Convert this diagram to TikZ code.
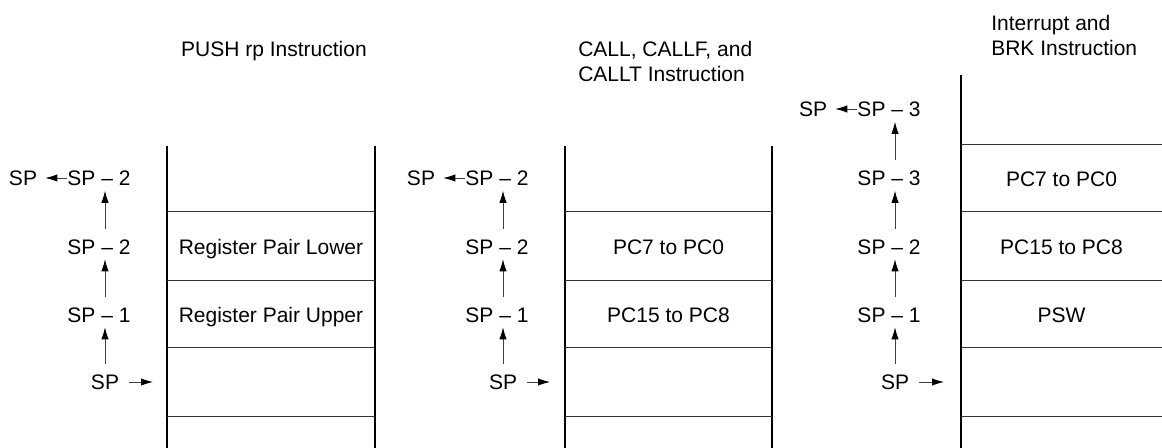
\documentclass[tikz,border=0pt]{standalone}
\usepackage{fontspec}
\setmainfont{Liberation Sans}
\usetikzlibrary{arrows.meta}

\begin{document}
\begin{tikzpicture}[x=0.75pt,y=0.75pt,yscale=-1,xscale=1,
  lbl/.style={inner sep=0pt,text height=11.3pt,text depth=0pt,font=\fontsize{15.75}{18.75}\selectfont},
  ttl/.style={anchor=north west,inner sep=0pt,align=left,font=\fontsize{15.75}{18.75}\selectfont},
  wall/.style={line width=2pt},
  rule/.style={line width=0.75pt,color=black!80},
  arr/.style={line width=0.6pt,color=black!75,-{Latex[length=9pt,width=5.5pt,color=black]}},
  uparr/.style={arr,shorten <=7.5pt,shorten >=3.75pt}]

\useasboundingbox (0,0) rectangle (1162,448);

% PUSH rp
\node (t1) [ttl,anchor=north] at (274,41) {PUSH rp Instruction};
\draw [wall] (167,146) -- (167,448) ;
\draw [wall] (375,146) -- (375,448) ;
\draw [rule] (167,212) -- (375,212) ;
\draw [rule] (167,281) -- (375,281) ;
\draw [rule] (167,348) -- (375,348) ;
\draw [rule] (167,416) -- (375,416) ;
\node (r1a) [lbl] at (271,246.5) {Register Pair Lower};
\node (r1b) [lbl] at (271,314.5) {Register Pair Upper};

\node (s1a) [lbl] at (23,178) {SP};
\node (s1b) [lbl] at (99,178) {SP -- 2};
\node (s1c) [lbl] at (99,246.5) {SP -- 2};
\node (s1d) [lbl] at (99,314.5) {SP -- 1};
\node (s1e) [lbl] at (105,382) {SP};
\coordinate (e1) at (153,382);
\draw [arr,shorten >=6pt] (s1b.west) -- (s1a.east) ;
\draw [uparr] ([xshift=4.5pt]s1c.north) -- ([xshift=4.5pt]s1b.south) ;
\draw [uparr] ([xshift=4.5pt]s1d.north) -- ([xshift=4.5pt]s1c.south) ;
\draw [uparr] (s1e.north) -- ([xshift=4.5pt]s1d.south) ;
\draw [arr,shorten <=7.5pt] (s1e.east) -- (e1) ;

% CALL, CALLF, CALLT
\node (t2) [ttl] at (578,41) {CALL, CALLF, and\\CALLT Instruction};
\draw [wall] (565,146) -- (565,448) ;
\draw [wall] (772,146) -- (772,448) ;
\draw [rule] (565,212) -- (772,212) ;
\draw [rule] (565,281) -- (772,281) ;
\draw [rule] (565,348) -- (772,348) ;
\draw [rule] (565,416) -- (772,416) ;
\node (r2a) [lbl] at (668.5,246.5) {PC7 to PC0};
\node (r2b) [lbl] at (668.5,314.5) {PC15 to PC8};

\node (s2a) [lbl] at (421,178) {SP};
\node (s2b) [lbl] at (497,178) {SP -- 2};
\node (s2c) [lbl] at (497,246.5) {SP -- 2};
\node (s2d) [lbl] at (497,314.5) {SP -- 1};
\node (s2e) [lbl] at (503,382) {SP};
\coordinate (e2) at (550,382);
\draw [arr,shorten >=6pt] (s2b.west) -- (s2a.east) ;
\draw [uparr] ([xshift=4.5pt]s2c.north) -- ([xshift=4.5pt]s2b.south) ;
\draw [uparr] ([xshift=4.5pt]s2d.north) -- ([xshift=4.5pt]s2c.south) ;
\draw [uparr] (s2e.north) -- ([xshift=4.5pt]s2d.south) ;
\draw [arr,shorten <=7.5pt] (s2e.east) -- (e2) ;

% Interrupt and BRK
\node (t3) [ttl] at (991,15) {Interrupt and\\BRK Instruction};
\draw [wall] (961,75) -- (961,448) ;
\draw [rule] (961,145) -- (1162,145) ;
\draw [rule] (961,212) -- (1162,212) ;
\draw [rule] (961,281) -- (1162,281) ;
\draw [rule] (961,348) -- (1162,348) ;
\draw [rule] (961,416) -- (1162,416) ;
\node (r3a) [lbl] at (1061.5,178.5) {PC7 to PC0};
\node (r3b) [lbl] at (1061.5,246.5) {PC15 to PC8};
\node (r3c) [lbl] at (1061.5,314.5) {PSW};

\node (s3a) [lbl] at (813,109) {SP};
\node (s3b) [lbl] at (889,109) {SP -- 3};
\node (s3c) [lbl] at (889,178) {SP -- 3};
\node (s3d) [lbl] at (889,246.5) {SP -- 2};
\node (s3e) [lbl] at (889,314.5) {SP -- 1};
\node (s3f) [lbl] at (895,382) {SP};
\coordinate (e3) at (944,382);
\draw [arr,shorten >=6pt] (s3b.west) -- (s3a.east) ;
\draw [uparr] ([xshift=4.5pt]s3c.north) -- ([xshift=4.5pt]s3b.south) ;
\draw [uparr] ([xshift=4.5pt]s3d.north) -- ([xshift=4.5pt]s3c.south) ;
\draw [uparr] ([xshift=4.5pt]s3e.north) -- ([xshift=4.5pt]s3d.south) ;
\draw [uparr] (s3f.north) -- ([xshift=4.5pt]s3e.south) ;
\draw [arr,shorten <=7.5pt] (s3f.east) -- (e3) ;

\end{tikzpicture}
\end{document}
